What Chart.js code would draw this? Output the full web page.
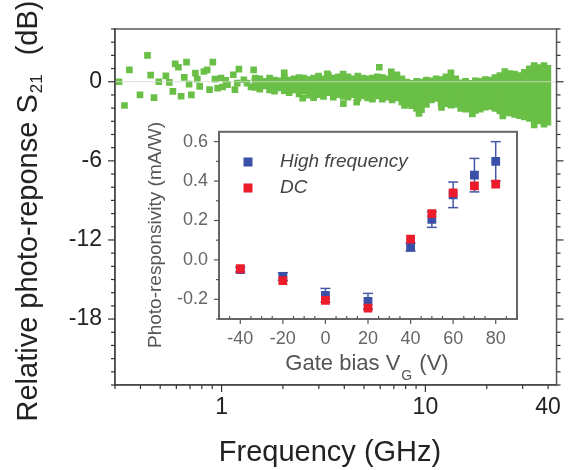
<!DOCTYPE html>
<html><head><meta charset="utf-8">
<script src="https://cdn.jsdelivr.net/npm/chart.js@4.4.1/dist/chart.umd.min.js"></script>
<style>
html,body{margin:0;padding:0;background:#fff;}
#wrap{position:relative;width:570px;height:470px;overflow:hidden;}
#main{position:absolute;left:0;top:0;}
#inset{position:absolute;left:130px;top:110px;}
</style></head><body>
<div id="wrap"><canvas id="main" width="570" height="470"></canvas><canvas id="inset" width="400" height="280"></canvas></div>
<script>
// ---------- main chart data (frequency in GHz, response in dB) ----------
const sparseFreq = [0.314,0.334,0.353,0.398,0.433,0.449,0.466,0.492,0.533,0.554,0.577,0.592,0.614,0.633,0.656,0.673,0.693,0.711,0.744,0.760,0.781,0.819,0.850,0.873,0.906,0.928,0.957,0.993,1.011,1.049,1.069,1.142,1.163,1.194,1.216,1.286,1.333,1.394,1.436,1.462,2.03,2.83,3.96,5.94,6.8,2.5,3.3,4.6,7.9,9.3,12.0,17.0,24.0];
const sparseDb   = [0.0,-1.8,0.9,-1.0,2.0,0.5,-1.2,0.0,0.45,-0.05,-0.73,1.36,1.1,-1.1,0.33,1.49,-0.18,-1.0,0.65,0.2,-0.35,0.78,0.9,-0.6,1.49,0.2,-0.48,0.28,-0.4,0.1,-0.23,0.53,-0.6,-0.1,0.96,0.15,-0.1,-0.4,0.9,0.28,0.68,-1.2,-1.66,1.1,0.75,-1.25,0.6,-1.55,-1.8,-2.4,-1.95,-2.45,-2.6];
const bandFreq = [1.457,1.540,1.628,1.720,1.818,1.921,2.031,2.146,2.269,2.398,2.534,2.679,2.831,2.992,3.162,3.342,3.533,3.734,3.946,4.171,4.408,4.659,4.924,5.204,5.501,5.813,6.145,6.494,6.863,7.254,7.667,8.103,8.564,9.051,9.567,10.11,10.69,11.29,11.94,12.62,13.34,14.10,14.90,15.75,16.65,17.59,18.59,19.65,20.77,21.95,23.20,24.52,25.92,27.39,28.95,30.60,32.34,34.18,36.13,38.18,39.9];
const bandTop    = [0.3,0.45,0.25,0.5,0.35,0.3,0.55,0.35,0.45,0.55,0.5,0.4,0.5,0.65,0.45,0.7,0.5,0.6,0.8,0.6,0.45,0.65,0.5,0.45,0.5,0.6,0.55,0.45,0.7,0.75,0.45,0.2,0.1,0.25,0.2,0.35,0.3,0.45,0.4,0.6,0.9,0.45,0.15,0.25,0.1,0.3,0.25,0.4,0.35,0.55,0.7,1.0,0.85,0.8,0.7,0.95,1.2,1.45,1.3,1.45,1.25];
const bandBottom = [-0.65,-0.8,-0.55,-0.85,-0.95,-0.7,-0.9,-1.05,-0.85,-1.15,-0.95,-1.25,-1.0,-1.2,-1.35,-1.05,-1.4,-1.2,-1.35,-1.4,-1.2,-1.5,-1.3,-1.45,-1.55,-1.3,-1.55,-1.4,-1.6,-1.45,-1.75,-1.9,-2.05,-2.25,-2.35,-1.95,-1.6,-1.5,-1.85,-1.9,-2.0,-1.95,-2.25,-2.3,-2.2,-2.4,-2.3,-2.15,-2.1,-2.25,-2.45,-2.5,-2.6,-2.7,-2.8,-2.9,-3.0,-3.5,-3.2,-3.45,-3.3];
const xTickValues = [1, 10, 40];
const yTickValues = [-18, -12, -6, 0];
const xTitle = 'Frequency (GHz)';
const yTitleMain = 'Relative photo-reponse S';
const yTitleSub = '21';
const yTitleUnit = '(dB)';

// ---------- inset data ----------
const gateBias = [-40, -20, 0, 20, 40, 50, 60, 70, 80];
const hfResp   = [-0.05, -0.085, -0.18, -0.21, 0.065, 0.205, 0.33, 0.43, 0.50];
const hfErr    = [0.012, 0.02, 0.035, 0.04, 0.02, 0.04, 0.065, 0.085, 0.10];
const dcResp   = [-0.045, -0.105, -0.205, -0.245, 0.105, 0.235, 0.34, 0.375, 0.385];
const insetXTicks = [-40, -20, 0, 20, 40, 60, 80];
const insetYTicks = [-0.2, 0.0, 0.2, 0.4, 0.6];
const insetXTitle = 'Gate bias V';
const insetXSub = 'G';
const insetXUnit = ' (V)';
const insetYTitle = 'Photo-responsivity (mA/W)';
const seriesLabels = ['High frequency', 'DC'];

const FONT = '"Liberation Sans", Arial, Helvetica, sans-serif';
const GREEN = '#6abf47';
const BLUE = '#3a4fa6';
const RED = '#ec1c2a';

function seg(ctx, x1, y1, x2, y2){ ctx.beginPath(); ctx.moveTo(x1,y1); ctx.lineTo(x2,y2); ctx.stroke(); }

const mainDeco = {
  id: 'mainDeco',
  afterDatasetsDraw(chart){
    const {ctx, chartArea:a, scales:{y}} = chart;
    ctx.save();
    ctx.strokeStyle = 'rgba(215,215,215,0.85)'; ctx.lineWidth = 1;
    const p0 = y.getPixelForValue(0);
    seg(ctx, a.left, p0, a.right, p0);
    ctx.restore();
  },
  afterDraw(chart){
    const {ctx, chartArea:a, scales:{x,y}} = chart;
    ctx.save();
    ctx.strokeStyle = '#555'; ctx.lineWidth = 1.5;
    ctx.strokeRect(a.left, a.top, a.right-a.left, a.bottom-a.top);
    ctx.lineWidth = 1.2; ctx.strokeStyle = '#333';
    for (let v = Math.ceil(y.min); v <= y.max; v++){
      const py = y.getPixelForValue(v);
      const L = (v % 6 === 0) ? 7 : 4;
      seg(ctx, a.left - L, py, a.left, py);
      seg(ctx, a.right, py, a.right + L, py);
    }
    for (let d = -1; d <= 1; d++){
      for (let m = 1; m <= 9; m++){
        const v = m * Math.pow(10, d);
        if (v < x.min || v > x.max) continue;
        const px = x.getPixelForValue(v);
        const L = (m === 1) ? 7 : 4;
        seg(ctx, px, a.bottom, px, a.bottom + L);
      }
    }
    // titles
    ctx.fillStyle = '#222';
    ctx.font = '29px ' + FONT; ctx.textAlign = 'center'; ctx.textBaseline = 'middle';
    ctx.fillText(xTitle, 330, 453);
    ctx.translate(27, 211); ctx.rotate(-Math.PI/2);
    const big = '29px ' + FONT, small = '17px ' + FONT, gap = 20;
    ctx.font = big; const w1 = ctx.measureText(yTitleMain).width; const w3 = ctx.measureText(yTitleUnit).width;
    ctx.font = small; const w2 = ctx.measureText(yTitleSub).width;
    const x0 = -(w1 + w2 + gap + w3) / 2;
    ctx.textAlign = 'left'; ctx.textBaseline = 'alphabetic';
    ctx.font = big; ctx.fillText(yTitleMain, x0, 10);
    ctx.font = small; ctx.fillText(yTitleSub, x0 + w1 + 1, 15);
    ctx.font = big; ctx.fillText(yTitleUnit, x0 + w1 + w2 + gap, 10);
    ctx.restore();
  }
};

new Chart(document.getElementById('main'), {
  type: 'bar',
  data: {
    datasets: [
      { type: 'bar', label: 'S21 band', data: bandFreq.map((f,i) => ({x: f, y: [bandBottom[i], bandTop[i]]})),
        backgroundColor: GREEN, borderWidth: 0, barThickness: 6, order: 2 },
      { type: 'scatter', label: 'S21', data: sparseFreq.map((f,i) => ({x: f, y: sparseDb[i]})),
        pointStyle: 'rect', pointRadius: 4.7, backgroundColor: GREEN, borderWidth: 0, order: 1 }
    ]
  },
  options: {
    responsive: false, animation: false, devicePixelRatio: 1,
    layout: { padding: { top: 29, right: 5, left: 0, bottom: 0 } },
    plugins: { legend: { display: false }, tooltip: { enabled: false } },
    scales: {
      x: { type: 'logarithmic', min: 0.3, max: 44, offset: false,
           grid: { display: true, offset: false, drawOnChartArea: false, drawTicks: false },
           border: { display: true, color: '#333', width: 1.5 },
           afterBuildTicks: s => { s.ticks = xTickValues.map(v => ({value: v})); },
           ticks: { autoSkip: false, maxRotation: 0, padding: 9, color: '#222', font: { family: FONT, size: 23 }, callback: v => String(v) },
           afterFit: s => { s.height = 85; } },
      y: { type: 'linear', min: -23, max: 4,
           grid: { display: true, drawOnChartArea: false, drawTicks: false },
           border: { display: true, color: '#333', width: 1.5 },
           afterBuildTicks: s => { s.ticks = yTickValues.map(v => ({value: v})); },
           ticks: { padding: 13, color: '#222', font: { family: FONT, size: 23 }, callback: v => String(v) },
           afterFit: s => { s.width = 115; } }
    }
  },
  plugins: [mainDeco]
});

// ---------- inset ----------
const insetDeco = {
  id: 'insetDeco',
  beforeDraw(chart){
    const {ctx, chartArea:a} = chart;
    ctx.save(); ctx.fillStyle = '#fff'; ctx.fillRect(a.left, a.top, a.right-a.left, a.bottom-a.top); ctx.restore();
  },
  beforeDatasetsDraw(chart){
    const {ctx, scales:{x,y}} = chart;
    ctx.save(); ctx.strokeStyle = '#4657a8'; ctx.lineWidth = 1.5;
    gateBias.forEach((g,i) => {
      const px = x.getPixelForValue(g);
      const t = y.getPixelForValue(hfResp[i] + hfErr[i]);
      const b = y.getPixelForValue(hfResp[i] - hfErr[i]);
      seg(ctx, px, t, px, b); seg(ctx, px-5, t, px+5, t); seg(ctx, px-5, b, px+5, b);
    });
    ctx.restore();
  },
  afterDraw(chart){
    const {ctx, chartArea:a, scales:{x,y}} = chart;
    ctx.save();
    ctx.strokeStyle = '#666'; ctx.lineWidth = 2;
    ctx.strokeRect(a.left, a.top, a.right-a.left, a.bottom-a.top);
    ctx.lineWidth = 1.2; ctx.strokeStyle = '#555';
    for (let k = -3; k <= 6; k++){
      const v = k / 10; const py = y.getPixelForValue(v);
      if (py < a.top - 0.5 || py > a.bottom + 0.5) continue;
      seg(ctx, a.left - ((k % 2 === 0) ? 5 : 3), py, a.left, py);
    }
    for (let v = -50; v <= 90; v += 5){
      const px = x.getPixelForValue(v);
      if (v % 20 === 0) seg(ctx, px, a.bottom, px, a.bottom + 5);
      else seg(ctx, px, a.bottom, px, a.bottom - 3);
    }
    // legend
    const ds = chart.data.datasets;
    ctx.font = 'italic 19px ' + FONT; ctx.textBaseline = 'middle'; ctx.textAlign = 'left';
    [[1, 52], [0, 78]].forEach(([di, ly], n) => {
      ctx.fillStyle = ds[di].backgroundColor; ctx.fillRect(118 - 4.5, ly - 4.5, 9, 9);
      ctx.fillStyle = '#444'; ctx.fillText(seriesLabels[n], 150, ly);
    });
    // axis titles
    ctx.fillStyle = '#555';
    const big = '22px ' + FONT, small = '14px ' + FONT;
    ctx.font = big; const w1 = ctx.measureText(insetXTitle).width, w3 = ctx.measureText(insetXUnit).width;
    ctx.font = small; const w2 = ctx.measureText(insetXSub).width;
    let x0 = 237 - (w1 + w2 + w3 + 2) / 2;
    ctx.textBaseline = 'alphabetic';
    ctx.font = big; ctx.fillText(insetXTitle, x0, 260);
    ctx.font = small; ctx.fillText(insetXSub, x0 + w1 + 1, 270);
    ctx.font = big; ctx.fillText(insetXUnit, x0 + w1 + w2 + 2, 260);
    ctx.translate(31, 125); ctx.rotate(-Math.PI/2);
    ctx.font = '19px ' + FONT; ctx.textAlign = 'center';
    ctx.fillText(insetYTitle, 0, 0);
    ctx.restore();
  }
};

new Chart(document.getElementById('inset'), {
  type: 'scatter',
  data: {
    datasets: [
      { label: seriesLabels[1], data: gateBias.map((g,i) => ({x: g, y: dcResp[i]})),
        pointStyle: 'rect', pointRadius: 6.2, backgroundColor: RED, borderWidth: 0, order: 1 },
      { label: seriesLabels[0], data: gateBias.map((g,i) => ({x: g, y: hfResp[i]})),
        pointStyle: 'rect', pointRadius: 6.2, backgroundColor: BLUE, borderWidth: 0, order: 2 }
    ]
  },
  options: {
    responsive: false, animation: false, devicePixelRatio: 1,
    layout: { padding: { top: 17, right: 13, left: 0, bottom: 0 } },
    plugins: { legend: { display: false }, tooltip: { enabled: false } },
    scales: {
      x: { type: 'linear', min: -50, max: 90,
           grid: { display: true, drawOnChartArea: false, drawTicks: false },
           border: { display: true, color: '#555', width: 2 },
           afterBuildTicks: s => { s.ticks = insetXTicks.map(v => ({value: v})); },
           ticks: { autoSkip: false, maxRotation: 0, padding: 9, color: '#666', font: { family: FONT, size: 18 }, callback: v => String(v) },
           afterFit: s => { s.height = 71; } },
      y: { type: 'linear', min: -0.3, max: 0.65,
           grid: { display: true, drawOnChartArea: false, drawTicks: false },
           border: { display: true, color: '#555', width: 2 },
           afterBuildTicks: s => { s.ticks = insetYTicks.map(v => ({value: v})); },
           ticks: { padding: 11, color: '#666', font: { family: FONT, size: 18 }, callback: v => Number(v).toFixed(1) },
           afterFit: s => { s.width = 89; } }
    }
  },
  plugins: [insetDeco]
});
</script>
</body></html>
